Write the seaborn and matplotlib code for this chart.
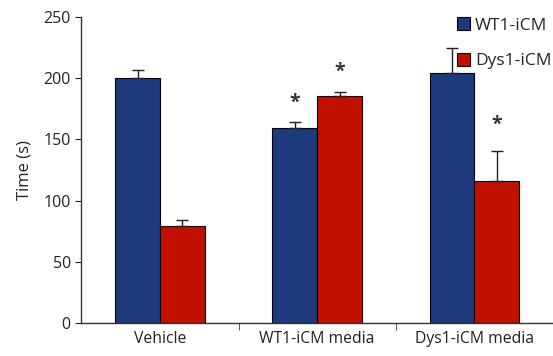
import numpy as np
import pandas as pd
import seaborn as sns
import matplotlib.pyplot as plt
from matplotlib.ticker import FixedLocator

# Data
treatments = ["Vehicle", "WT1-iCM media", "Dys1-iCM media"]
cell_lines = ["WT1-iCM", "Dys1-iCM"]
wt1_means = [200, 159, 204]
dys1_means = [79, 185.5, 116]
wt1_err = [7, 5, 21]
dys1_err = [5, 3.5, 24.5]
# where the significance stars sit (data units); None = no star
wt1_stars = [None, 180, None]
dys1_stars = [None, 205, 162]

colors = ["#1C3A7C", "#C21000"]

sns.set_style("ticks")
plt.rcParams["font.family"] = ["Open Sans", "DejaVu Sans"]

df = pd.DataFrame({
    "treatment": treatments * 2,
    "line": [cell_lines[0]] * 3 + [cell_lines[1]] * 3,
    "time": wt1_means + dys1_means,
})

fig = plt.figure(figsize=(5.53, 3.56), dpi=100)
ax = fig.add_axes([0.147, 0.093, 0.853, 0.859])

sns.barplot(data=df, x="treatment", y="time", hue="line", order=treatments,
            hue_order=cell_lines, palette=colors, errorbar=None, width=0.57,
            edgecolor="black", linewidth=0.8, ax=ax, saturation=1)

# error bars (upper only) and stars
errs = [wt1_err, dys1_err]
stars = [wt1_stars, dys1_stars]
bar_groups = list(ax.containers)
for h, cont in enumerate(bar_groups):
    for i, bar in enumerate(cont.patches):
        xc = bar.get_x() + bar.get_width() / 2
        top = bar.get_height()
        ax.errorbar(xc, top, yerr=[[0], [errs[h][i]]], fmt="none",
                    ecolor="#222222", elinewidth=1, capsize=4, capthick=1)
        if stars[h][i] is not None:
            ax.text(xc, stars[h][i], "*", ha="center", va="center",
                    fontsize=14, fontweight="bold", color="#333333")

ax.set_ylim(0, 250)
ax.set_xlim(-0.5, 2.5)
ax.set_yticks([0, 50, 100, 150, 200, 250])
ax.set_ylabel("Time (s)", fontsize=12, color="#222222", labelpad=8)
ax.set_xlabel("")
ax.tick_params(axis="y", labelsize=11.5, colors="#222222", length=4, direction="out")
ax.tick_params(axis="x", which="major", length=0, labelsize=11.3, colors="#222222", pad=6)
ax.xaxis.set_minor_locator(FixedLocator([0.5, 1.5]))
ax.tick_params(axis="x", which="minor", length=5, color="#333333")
for s in ["top", "right"]:
    ax.spines[s].set_visible(False)
for s in ["left", "bottom"]:
    ax.spines[s].set_color("#333333")
    ax.spines[s].set_linewidth(1)

leg = ax.legend(loc="upper right", bbox_to_anchor=(1.03, 1.05), frameon=False,
                fontsize=12.5, handlelength=0.75, handleheight=0.75,
                handletextpad=0.3, labelspacing=1.1)
for p in leg.get_patches():
    p.set_edgecolor("black")
    p.set_linewidth(0.8)

fig.savefig("out.png", dpi=100)
